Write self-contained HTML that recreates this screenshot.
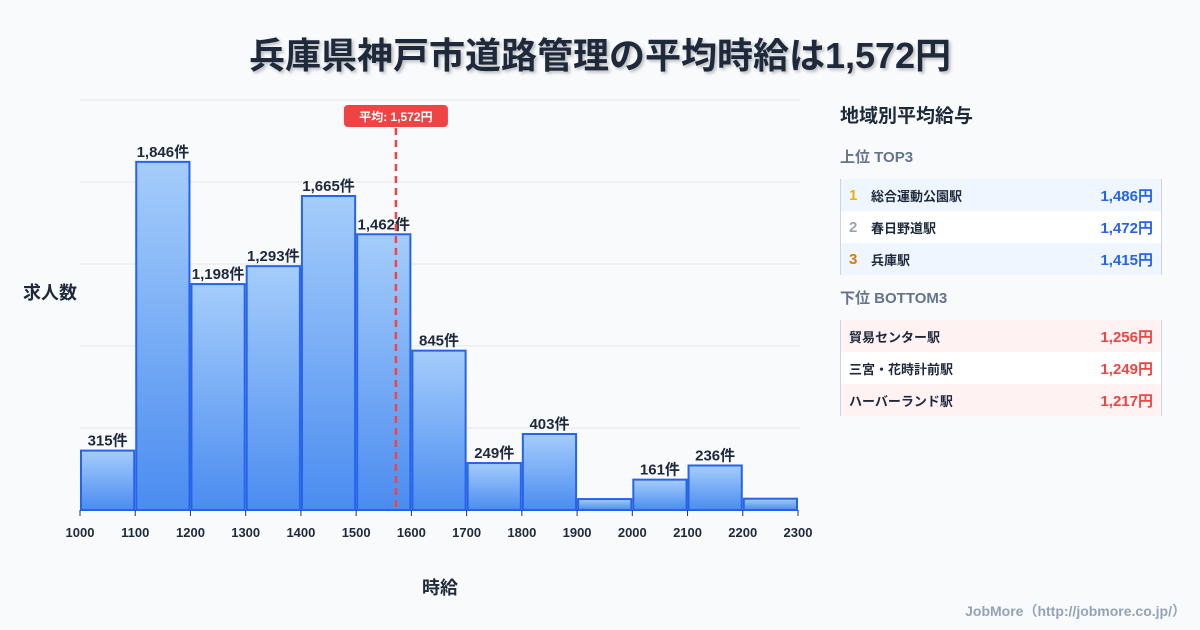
<!DOCTYPE html>
<html><head><meta charset="utf-8"><style>
body{margin:0;width:1200px;height:630px;background:#f8fafc;font-family:"Liberation Sans","Noto Sans CJK JP",sans-serif;overflow:hidden;position:relative}
.t{position:absolute;left:0;width:1200px;top:27px;text-align:center;font-size:36px;font-weight:bold;color:#1e293b;text-shadow:2px 2px 3px rgba(0,0,0,.25)}
.panel{position:absolute;left:840px;top:101px;width:322px}
.ph{font-size:19px;font-weight:bold;color:#1e293b;margin-bottom:18px}
.sh{font-size:15px;font-weight:bold;color:#64748b;margin:0 0 12px}
.row{height:32px;display:flex;align-items:center;font-size:13px;font-weight:bold;color:#1e293b;padding:0 8px;border-right:1px solid #cbd5e1;border-left:1px solid #cbd5e1}
.row .v{margin-left:auto;font-size:15px}
.n{width:22px;font-size:15px}
.foot{position:absolute;right:14px;bottom:9px;font-size:14px;font-weight:bold;color:#94a3b8}
</style></head><body>
<div class="t">兵庫県神戸市道路管理の平均時給は1,572円</div>
<svg id="c" width="1200" height="630" style="position:absolute;left:0;top:0"></svg>
<div class="panel">
<div class="ph">地域別平均給与</div>
<div class="sh">上位 TOP3</div>
<div class="row" style="background:#eff6ff"><span class="n" style="color:#eab308">1</span>総合運動公園駅<span class="v" style="color:#2563eb">1,486円</span></div>
<div class="row" style="background:#fff"><span class="n" style="color:#9ca3af">2</span>春日野道駅<span class="v" style="color:#2563eb">1,472円</span></div>
<div class="row" style="background:#eff6ff"><span class="n" style="color:#d97706">3</span>兵庫駅<span class="v" style="color:#2563eb">1,415円</span></div>
<div class="sh" style="margin-top:12px">下位 BOTTOM3</div>
<div class="row" style="background:#fef2f2">貿易センター駅<span class="v" style="color:#ef4444">1,256円</span></div>
<div class="row" style="background:#fff">三宮・花時計前駅<span class="v" style="color:#ef4444">1,249円</span></div>
<div class="row" style="background:#fef2f2">ハーバーランド駅<span class="v" style="color:#ef4444">1,217円</span></div>
</div>
<div class="foot">JobMore（http://jobmore.co.jp/）</div>
<script>
const binStarts=[1000,1100,1200,1300,1400,1500,1600,1700,1800,1900,2000,2100,2200];
const counts=[315,1846,1198,1293,1665,1462,845,249,403,58,161,236,60];
const showLabel=[true,true,true,true,true,true,true,true,true,false,true,true,false];
const xTicks=[1000,1100,1200,1300,1400,1500,1600,1700,1800,1900,2000,2100,2200,2300];
const avg=1572;
const NS="http://www.w3.org/2000/svg";
const svg=document.getElementById('c');
const x0=80,x1=798,yb=510,yt=100,xmin=1000,xmax=2300,ymax=2174;
const X=v=>x0+(v-xmin)/(xmax-xmin)*(x1-x0);
const Y=v=>yb-v/ymax*(yb-yt);
function mk(t,a){const e=document.createElementNS(NS,t);for(const k in a)e.setAttribute(k,a[k]);svg.appendChild(e);return e;}
const defs=mk('defs',{});
defs.innerHTML='<linearGradient id="g" x1="0" y1="0" x2="0" y2="1"><stop offset="0" stop-color="#a5cdfb"/><stop offset="1" stop-color="#4b8cf0"/></linearGradient>';
for(let i=0;i<=5;i++){const g=mk('line',{x1:x0,x2:800,y1:yt+i*82,y2:yt+i*82,stroke:'#e5e7eb','stroke-width':1});
}
binStarts.forEach((b,i)=>{
 const r=mk('rect',{x:X(b)+1,y:Y(counts[i]),width:X(b+100)-X(b)-2,height:yb-Y(counts[i]),fill:'url(#g)',stroke:'#2563eb','stroke-width':2});
 
 if(showLabel[i]){const t=mk('text',{x:(X(b)+X(b+100))/2,y:Y(counts[i])-5,'text-anchor':'middle','font-size':15,'font-weight':'bold',fill:'#1e293b'});
 t.textContent=counts[i].toLocaleString('en-US')+'件';}
});
xTicks.forEach(v=>{const l=mk('line',{x1:X(v),x2:X(v),y1:yb,y2:yb+6,stroke:'#333'});
 const t=mk('text',{x:X(v),y:yb+27,'text-anchor':'middle','font-size':13,'font-weight':'bold',fill:'#1e293b'});t.textContent=v;});
const al=mk('line',{x1:X(avg),x2:X(avg),y1:128,y2:yb,stroke:'#ef4444','stroke-width':2.5,'stroke-dasharray':'7,5'});

const ab=mk('rect',{x:X(avg)-52,y:105,width:104,height:22,rx:4,fill:'#ef4444'});

const at=mk('text',{x:X(avg),y:121,'text-anchor':'middle','font-size':12,'font-weight':'bold',fill:'#fff'});at.textContent='平均: 1,572円';

const yl=mk('text',{x:50,y:299,'text-anchor':'middle','font-size':18,'font-weight':'bold',fill:'#1e293b'});yl.textContent='求人数';

const xl=mk('text',{x:440,y:594,'text-anchor':'middle','font-size':18,'font-weight':'bold',fill:'#1e293b'});xl.textContent='時給';

</script>
</body></html>
